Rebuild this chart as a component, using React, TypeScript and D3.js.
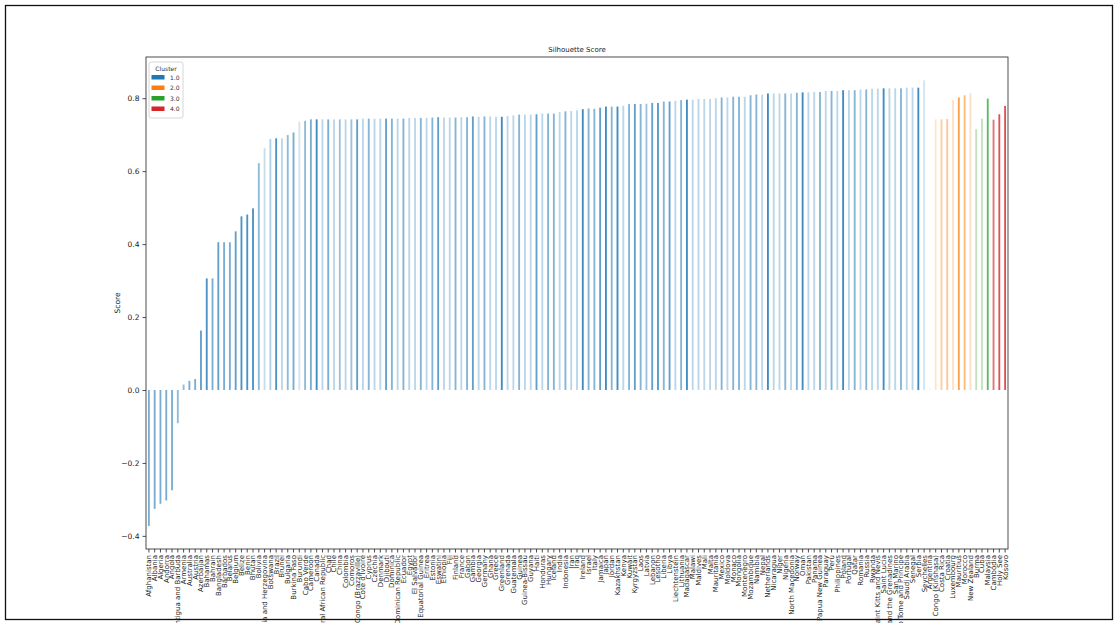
import React, { useEffect, useRef } from 'react';
import * as d3 from 'd3';

const countries = [
  'Afghanistan', 'Albania', 'Algeria', 'Andorra', 'Angola', 'Antigua and Barbuda', 'Armenia', 'Australia', 'Austria', 'Azerbaijan',
  'Bahamas', 'Bahrain', 'Bangladesh', 'Barbados', 'Belarus', 'Belgium', 'Belize', 'Benin', 'Bhutan', 'Bolivia',
  'Bosnia and Herzegovina', 'Botswana', 'Brazil', 'Brunei', 'Bulgaria', 'Burkina Faso', 'Burundi', 'Cabo Verde', 'Cameroon', 'Canada',
  'Central African Republic', 'Chad', 'Chile', 'China', 'Colombia', 'Comoros', 'Congo (Brazzaville)', "Cote d'Ivoire", 'Cyprus', 'Czechia',
  'Denmark', 'Djibouti', 'Dominica', 'Dominican Republic', 'Ecuador', 'Egypt', 'El Salvador', 'Equatorial Guinea', 'Eritrea', 'Estonia',
  'Eswatini', 'Ethiopia', 'Fiji', 'Finland', 'France', 'Gabon', 'Gambia', 'Georgia', 'Germany', 'Ghana',
  'Greece', 'Greenland', 'Grenada', 'Guatemala', 'Guinea', 'Guinea-Bissau', 'Guyana', 'Haiti', 'Honduras', 'Hungary',
  'Iceland', 'India', 'Indonesia', 'Iran', 'Iraq', 'Ireland', 'Israel', 'Italy', 'Jamaica', 'Japan',
  'Jordan', 'Kazakhstan', 'Kenya', 'Kuwait', 'Kyrgyzstan', 'Laos', 'Latvia', 'Lebanon', 'Lesotho', 'Liberia',
  'Libya', 'Liechtenstein', 'Lithuania', 'Madagascar', 'Malawi', 'Maldives', 'Mali', 'Malta', 'Mauritania', 'Mexico',
  'Moldova', 'Monaco', 'Mongolia', 'Montenegro', 'Mozambique', 'Namibia', 'Nepal', 'Netherlands', 'Nicaragua', 'Niger',
  'Nigeria', 'North Macedonia', 'Norway', 'Oman', 'Pakistan', 'Panama', 'Papua New Guinea', 'Paraguay', 'Peru', 'Philippines',
  'Poland', 'Portugal', 'Qatar', 'Romania', 'Russia', 'Rwanda', 'Saint Kitts and Nevis', 'Saint Lucia', 'Saint Vincent and the Grenadines', 'San Marino',
  'Sao Tome and Principe', 'Saudi Arabia', 'Senegal', 'Serbia', 'Seychelles',
  'Argentina', 'Congo (Kinshasa)', 'Costa Rica', 'Croatia', 'Luxembourg', 'Mauritius', 'Morocco', 'New Zealand',
  'Burma', 'Cuba', 'Malaysia',
  'Cambodia', 'Holy See', 'Kosovo',
];

const scores = [
  -0.373, -0.326, -0.312, -0.303, -0.275, -0.091, 0.015, 0.025, 0.030, 0.163,
  0.306, 0.306, 0.405, 0.405, 0.405, 0.435, 0.476, 0.481, 0.498, 0.622,
  0.663, 0.688, 0.690, 0.690, 0.699, 0.706, 0.736, 0.738, 0.742, 0.742,
  0.742, 0.742, 0.742, 0.742, 0.742, 0.742, 0.742, 0.744, 0.744, 0.744,
  0.744, 0.744, 0.744, 0.744, 0.744, 0.746, 0.746, 0.746, 0.746, 0.747,
  0.748, 0.747, 0.747, 0.747, 0.748, 0.748, 0.750, 0.749, 0.750, 0.750,
  0.749, 0.749, 0.751, 0.753, 0.755, 0.755, 0.755, 0.756, 0.758, 0.758,
  0.758, 0.762, 0.764, 0.765, 0.767, 0.770, 0.772, 0.771, 0.774, 0.777,
  0.777, 0.777, 0.779, 0.784, 0.784, 0.784, 0.785, 0.787, 0.787, 0.791,
  0.791, 0.793, 0.795, 0.796, 0.796, 0.798, 0.798, 0.798, 0.800, 0.802,
  0.802, 0.804, 0.804, 0.804, 0.808, 0.810, 0.810, 0.813, 0.813, 0.813,
  0.813, 0.813, 0.815, 0.816, 0.816, 0.817, 0.817, 0.820, 0.820, 0.820,
  0.822, 0.822, 0.822, 0.824, 0.824, 0.826, 0.826, 0.827, 0.827, 0.827,
  0.827, 0.829, 0.829, 0.829, 0.849,
  0.004, 0.742, 0.742, 0.743, 0.795, 0.802, 0.808, 0.814,
  0.715, 0.744, 0.799,
  0.741, 0.756, 0.779,
];

const clusters = [
  ...Array(135).fill(1),
  ...Array(8).fill(2),
  ...Array(3).fill(3),
  ...Array(3).fill(4),
];

// per-bar transparency as it appears in the picture
const shade = [
  0.6, 0.6, 0.6, 0.6, 0.6, 0.5, 0.5, 0.6, 0.6, 0.7,
  0.8, 0.6, 0.7, 0.6, 0.6, 0.7, 0.8, 0.8, 0.8, 0.5,
  0.25, 0.35, 0.8, 0.3, 0.5, 0.6, 0.2, 0.5, 0.6, 0.85,
  0.3, 0.6, 0.3, 0.45, 0.3, 0.45, 0.7, 0.3, 0.55, 0.3,
  0.3, 0.7, 0.55, 0.3, 0.55, 0.3, 0.3, 0.55, 0.3, 0.55,
  0.7, 0.3, 0.3, 0.55, 0.3, 0.55, 0.7, 0.3, 0.55, 0.3,
  0.3, 0.85, 0.3, 0.3, 0.55, 0.3, 0.3, 0.7, 0.3, 0.55,
  0.55, 0.3, 0.55, 0.3, 0.3, 0.85, 0.55, 0.55, 0.7, 0.85,
  0.55, 0.85, 0.3, 0.55, 0.7, 0.55, 0.45, 0.7, 0.75, 0.55,
  0.7, 0.3, 0.55, 0.85, 0.3, 0.3, 0.3, 0.3, 0.3, 0.55,
  0.3, 0.55, 0.55, 0.3, 0.55, 0.55, 0.3, 0.85, 0.3, 0.3,
  0.55, 0.3, 0.55, 0.85, 0.3, 0.3, 0.55, 0.3, 0.55, 0.3,
  0.85, 0.3, 0.55, 0.3, 0.55, 0.3, 0.3, 0.85, 0.3, 0.3,
  0.55, 0.3, 0.3, 0.85, 0.2,
  0.12, 0.2, 0.4, 0.45, 0.25, 0.75, 0.55, 0.25,
  0.3, 0.3, 0.75,
  0.65, 0.8, 0.8,
];

const clusterLabels = ['1.0', '2.0', '3.0', '4.0'];
const yTicks = [-0.4, -0.2, 0.0, 0.2, 0.4, 0.6, 0.8];

const App: React.FC = () => {
  const svgRef = useRef<SVGSVGElement>(null);

  useEffect(() => {
    if (!svgRef.current) return;
    d3.select(svgRef.current).selectAll('*').remove();

    const width = 1117;
    const height = 623;
    const left = 146, right = 1008, top = 57, bottom = 549;
    const font = 'DejaVu Sans, sans-serif';

    const svg = d3.select(svgRef.current)
      .attr('width', width)
      .attr('height', height)
      .style('font-family', font);

    svg.append('rect').attr('width', width).attr('height', height).attr('fill', 'white');

    // outer frame
    svg.append('rect')
      .attr('x', 5.5).attr('y', 5.5)
      .attr('width', 1107).attr('height', 614)
      .attr('fill', 'none').attr('stroke', '#111').attr('stroke-width', 1.3);

    const x = d3.scaleBand<string>()
      .domain(countries)
      .range([left, right])
      .paddingInner(0.68)
      .paddingOuter(0.34);

    const y = d3.scaleLinear().domain([-0.436, 0.913]).range([bottom, top]);
    const color = d3.scaleOrdinal<number, string>()
      .domain([1, 2, 3, 4])
      .range(['#1f77b4', '#ff7f0e', '#2ca02c', '#d62728']);

    const data = countries.map((c, i) => ({
      country: c,
      score: scores[i],
      cluster: clusters[i],
      alpha: shade[i],
    }));

    svg.append('g')
      .selectAll('rect')
      .data(data)
      .enter()
      .append('rect')
      .attr('x', d => x(d.country)!)
      .attr('width', x.bandwidth())
      .attr('y', d => Math.min(y(d.score), y(0)))
      .attr('height', d => Math.abs(y(d.score) - y(0)))
      .attr('fill', d => color(d.cluster))
      .attr('fill-opacity', d => d.alpha);

    // y axis
    const yAxis = svg.append('g')
      .attr('transform', `translate(${left},0)`)
      .call(d3.axisLeft(y).tickValues(yTicks).tickSize(3.5).tickPadding(3)
        .tickFormat(d => d3.format('.1f')(d as number).replace('-', '\u2212')));
    yAxis.select('.domain').remove();
    yAxis.selectAll('text').attr('font-size', 7.5).attr('font-family', font).attr('fill', '#222');
    yAxis.selectAll('line').attr('stroke', '#222').attr('stroke-width', 0.8);

    // x axis
    const xAxis = svg.append('g')
      .attr('transform', `translate(0,${bottom})`)
      .call(d3.axisBottom(x).tickSize(3.5).tickPadding(2));
    xAxis.select('.domain').remove();
    xAxis.selectAll('line').attr('stroke', '#222').attr('stroke-width', 0.8);
    xAxis.selectAll('text')
      .attr('font-size', 7)
      .attr('font-family', font)
      .attr('fill', '#222')
      .attr('text-anchor', 'end')
      .attr('dy', '0.35em')
      .attr('transform', 'translate(0,6) rotate(-90)')
      .attr('x', 0)
      .attr('y', 0);

    // plot frame
    svg.append('rect')
      .attr('x', left).attr('y', top)
      .attr('width', right - left).attr('height', bottom - top)
      .attr('fill', 'none').attr('stroke', '#222').attr('stroke-width', 0.8);

    svg.append('text')
      .attr('x', (left + right) / 2).attr('y', top - 5)
      .attr('text-anchor', 'middle')
      .attr('font-size', 7).attr('fill', '#222')
      .text('Silhouette Score');

    svg.append('text')
      .attr('transform', `translate(120,${(top + bottom) / 2}) rotate(-90)`)
      .attr('text-anchor', 'middle')
      .attr('font-size', 7.5).attr('fill', '#222')
      .text('Score');

    // legend
    const lg = svg.append('g').attr('transform', `translate(${left + 3},${top + 5})`);
    lg.append('rect')
      .attr('width', 34).attr('height', 56).attr('rx', 2)
      .attr('fill', 'white').attr('fill-opacity', 0.8)
      .attr('stroke', '#ccc').attr('stroke-width', 0.8);
    lg.append('text')
      .attr('x', 17).attr('y', 8.5)
      .attr('text-anchor', 'middle')
      .attr('font-size', 6).attr('fill', '#333')
      .text('Cluster');
    clusterLabels.forEach((lab, i) => {
      lg.append('rect')
        .attr('x', 2.5).attr('y', 13 + i * 10.5)
        .attr('width', 13).attr('height', 4.5)
        .attr('fill', color(i + 1));
      lg.append('text')
        .attr('x', 21).attr('y', 17.5 + i * 10.5)
        .attr('font-size', 6).attr('fill', '#333')
        .text(lab);
    });
  }, []);

  return <svg ref={svgRef} style={{ position: 'absolute', left: 0, top: 0 }}></svg>;
};

export default App;
